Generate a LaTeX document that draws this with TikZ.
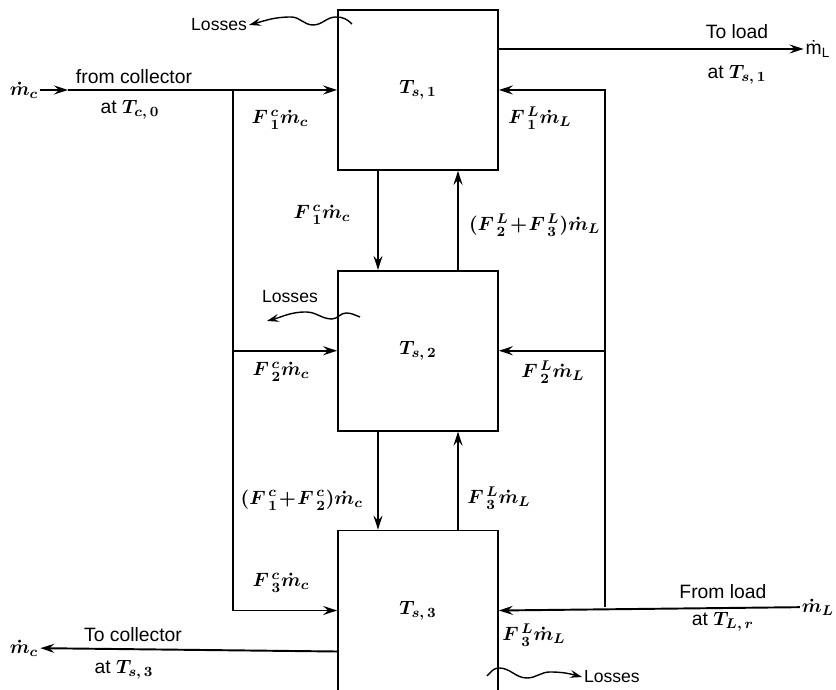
\documentclass[tikz,border=0pt]{standalone}
\usepackage{fontspec}
\setmainfont{Liberation Sans}
\usetikzlibrary{arrows.meta,positioning}
\tikzset{
  tank/.style={draw=black, line width=1pt, minimum width=3.2cm, minimum height=3.2cm,
    inner sep=0pt, font=\fontsize{11}{13}\selectfont\boldmath},
  pipe/.style={draw=black, line width=1.1pt},
  flow/.style={pipe, -{Stealth[length=2.8mm,width=1.8mm,inset=1mm]}},
  wavy/.style={draw=black, line width=0.8pt, -{Stealth[length=2.4mm,width=1.6mm,inset=0.9mm]}},
  lbl/.style={font=\fontsize{11}{13}\selectfont\boldmath, inner sep=1pt},
  losstxt/.style={font=\fontsize{10}{12}\selectfont, inner sep=1pt},
  rate/.style={font=\fontsize{11}{13}\selectfont\boldmath, inner sep=1pt},
}
% split fraction F^{side}_{tank}
\newcommand{\Fr}[2]{{F\kern1.5pt}^{#1}_{#2}}

\begin{document}
\begin{tikzpicture}[x=0.2mm, y=0.2mm]
\useasboundingbox (0,0) rectangle (836,690);

% tanks
\node[tank] (s1) at (418,600) {$T_{s,\,1}$};
\node[tank, below=1.98cm of s1] (s2) {$T_{s,\,2}$};
\node[tank, below=1.96cm of s2] (s3) {$T_{s,\,3}$};

% collector loop in
\node[lbl] (mcin) at (24,600) {$\dot m_c$};
\coordinate (cin) at (68,600);
\coordinate (jc) at (233,600);
\draw[flow] (mcin) -- (cin);
\draw[flow] (cin) -- (s1.west);
\draw[flow] (jc) |- (s2.west);
\draw[flow] (jc) |- (s3.west);
\node[lbl] (fromcol) at (134,613) {from collector};
\node[lbl] (atTc) at (130,580) {at $T_{c,\,0}$};
\node[rate] (fc1a) at (280,570) {$\Fr{c}{1}\dot m_c$};
\node[rate] (fc2) at (281,318) {$\Fr{c}{2}\dot m_c$};
\node[rate] (fc3) at (281,107) {$\Fr{c}{3}\dot m_c$};

% load loop out
\node[lbl] (mlout) at (818,641) {\.m\textsubscript{L}};
\draw[flow] ([yshift=0.82cm]s1.east) -- (mlout);
\node[lbl] (toload) at (737,658) {To load};
\node[lbl] (atTs1) at (737,615) {at $T_{s,\,1}$};

% load loop in
\node[lbl] (mlin) at (818,83) {$\dot m_L$};
\coordinate (jl) at (605,83);
\draw[flow] (mlin) -- (s3.east);
\draw[flow] (jl) |- (s2.east);
\draw[flow] (jl) |- (s1.east);
\node[lbl] (fromload) at (723,98) {From load};
\node[lbl] (atTL) at (723,68) {at $T_{L,\,r}$};
\node[rate] (fl1) at (540,572) {$\Fr{L}{1}\dot m_L$};
\node[rate] (fl2) at (553,318) {$\Fr{L}{2}\dot m_L$};
\node[rate] (fl3b) at (534,55) {$\Fr{L}{3}\dot m_L$};

% between tanks
\draw[flow] ([xshift=-0.8cm]s1.south) -- ([xshift=-0.8cm]s2.north);
\draw[flow] ([xshift=0.8cm]s2.north) -- ([xshift=0.8cm]s1.south);
\draw[flow] ([xshift=-0.8cm]s2.south) -- ([xshift=-0.8cm]s3.north);
\draw[flow] ([xshift=0.8cm]s3.north) -- ([xshift=0.8cm]s2.south);
\node[rate] (fc1b) at (322,475) {$\Fr{c}{1}\dot m_c$};
\node[rate, anchor=west] (fl23) at (467,465) {$(\Fr{L}{2}\!+\!\Fr{L}{3})\dot m_L$};
\node[rate, anchor=east] (fc12) at (365,190) {$(\Fr{c}{1}\!+\!\Fr{c}{2})\dot m_c$};
\node[rate] (fl3a) at (499,192) {$\Fr{L}{3}\dot m_L$};

% collector loop out
\node[lbl] (mcout) at (24,42) {$\dot m_c$};
\draw[flow] ([yshift=-0.82cm]s3.west) -- (mcout);
\node[lbl] (tocol) at (133,55) {To collector};
\node[lbl] (atTs3) at (124,20) {at $T_{s,\,3}$};

% losses
\node[losstxt, anchor=east] (loss1) at (249,665) {Losses};
\coordinate (w1) at (352,666);
\draw[wavy] (w1) to[out=135,in=0] (336,673) to[out=180,in=0] (313,665)
  to[out=180,in=0] (291,673) to[out=180,in=15] (loss1.east);
\node[losstxt] (loss2) at (290,393) {Losses};
\coordinate (w2) at (360,373);
\coordinate (w2e) at (267,369);
\draw[wavy] (w2) to[out=160,in=0] (346,377) to[out=180,in=0] (332,371)
  to[out=180,in=0] (306,378) to[out=180,in=15] (w2e);
\node[losstxt, anchor=west] (loss3) at (582,13) {Losses};
\coordinate (w3) at (487,14);
\draw[wavy] (w3) to[out=45,in=180] (499,22) to[out=0,in=180] (527,12)
  to[out=0,in=180] (550,18) to[out=0,in=165] (loss3.west);

\end{tikzpicture}
\end{document}
